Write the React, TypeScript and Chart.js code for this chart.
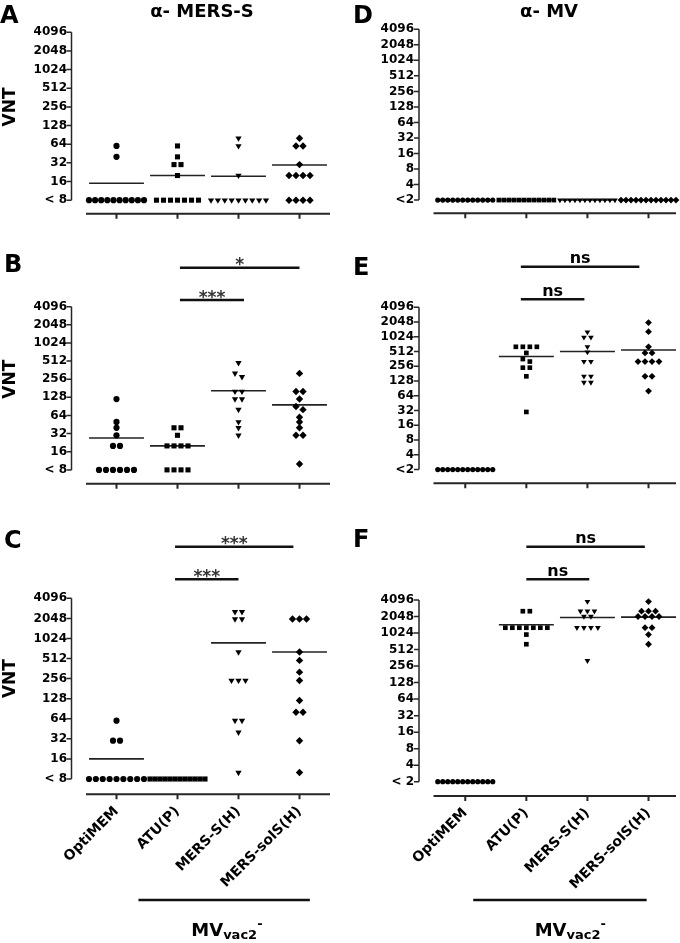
import React, { useEffect, useRef } from 'react';
import { Chart, registerables } from 'chart.js';

Chart.register(...registerables);

const FONT = '"DejaVu Sans", "Liberation Sans", Arial, sans-serif';
Chart.defaults.font.family = FONT;

// ---------- data ----------
const categories = ['OptiMEM', 'ATU(P)', 'MERS-S(H)', 'MERS-solS(H)'];
const mersTickLabels = ['< 8', '16', '32', '64', '128', '256', '512', '1024', '2048', '4096'];
const mvTickLabels = ['<2', '4', '8', '16', '32', '64', '128', '256', '512', '1024', '2048', '4096'];
const mvTickLabelsF = ['< 2', '4', '8', '16', '32', '64', '128', '256', '512', '1024', '2048', '4096'];

// Panel A (alpha-MERS-S)
const aOptiMEM = [60, 40, 8, 8, 8, 8, 8, 8, 8, 8, 8, 8];
const aATU = [60, 40, 30, 30, 20, 8, 8, 8, 8, 8, 8, 8];
const aMersS = [80, 60, 20, 8, 8, 8, 8, 8, 8, 8, 8, 8];
const aMersSolS = [80, 60, 60, 30, 20, 20, 20, 20, 8, 8, 8, 8];
const aMeans = [15, 20, 19.5, 29.5];

// Panel B
const bOptiMEM = [120, 50, 40, 30, 20, 20, 8, 8, 8, 8, 8, 8];
const bATU = [40, 40, 30, 20, 20, 20, 20, 8, 8, 8, 8];
const bMersS = [480, 320, 280, 160, 160, 120, 120, 80, 50, 40, 30];
const bMersSolS = [320, 160, 160, 120, 90, 80, 60, 50, 40, 30, 30, 10];
const bMeans = [27, 20, 165, 96];

// Panel C
const cOptiMEM = [60, 30, 30, 8, 8, 8, 8, 8, 8, 8, 8, 8];
const cATU = [8, 8, 8, 8, 8, 8, 8, 8, 8, 8, 8, 8];
const cMersS = [2560, 2560, 2000, 2000, 640, 240, 240, 240, 60, 60, 40, 10];
const cMersSolS = [2000, 2000, 2000, 640, 480, 320, 240, 120, 80, 80, 30, 10];
const cMeans = [16, 8, 880, 640];

// Panel D (alpha-MV)
const dOptiMEM = [2, 2, 2, 2, 2, 2, 2, 2, 2, 2, 2, 2];
const dATU = [2, 2, 2, 2, 2, 2, 2, 2, 2, 2, 2, 2];
const dMersS = [2, 2, 2, 2, 2, 2, 2, 2, 2, 2, 2, 2];
const dMersSolS = [2, 2, 2, 2, 2, 2, 2, 2, 2, 2, 2, 2];
const dMeans = [2, 2, 2, 2];

// Panel E
const eOptiMEM = [2, 2, 2, 2, 2, 2, 2, 2, 2, 2, 2, 2];
const eATU = [640, 640, 640, 640, 480, 360, 320, 240, 240, 160, 30];
const eMersS = [1280, 1000, 1000, 640, 500, 320, 320, 160, 160, 120, 120];
const eMersSolS = [2000, 1300, 640, 480, 480, 320, 320, 320, 320, 160, 160, 80];
const eMeans = [2, 405, 512, 550];

// Panel F
const fOptiMEM = [2, 2, 2, 2, 2, 2, 2, 2, 2, 2, 2, 2];
const fATU = [2560, 2560, 1280, 1280, 1280, 1280, 1280, 1280, 1280, 960, 640];
const fMersS = [3840, 2560, 2560, 2560, 2048, 2048, 1280, 1280, 1280, 1280, 320];
const fMersSolS = [3840, 2560, 2560, 2560, 2048, 2048, 2048, 2048, 1280, 1280, 960, 640];
const fMeans = [2, 1450, 1970, 2000];

// ---------- layout ----------
type Sig = { from: number; to: number; y: number; label: string };
type Group = { from: number; to: number; barY: number; center: number; baseY: number };
type PanelCfg = {
  letter: string; left: number; top: number; width: number; height: number;
  chartLeft: number; chartRight: number; tickTop: number; tickLow: number; axisY: number;
  xMin: number; xMax: number; yPad: number; small: boolean;
  tickLabels: string[]; groups: number[][]; means: number[];
  letterX: number; letterY: number; title?: string; titleX?: number; vnt: boolean;
  sig: Sig[]; showX: boolean; group?: Group;
};

const panels: PanelCfg[] = [
  {
    letter: 'A', left: 0, top: 0, width: 340, height: 240,
    chartLeft: 86, chartRight: 330, tickTop: 32.3, tickLow: 211, axisY: 225.5,
    xMin: -0.5, xMax: 3.5, yPad: 19, small: false,
    tickLabels: mersTickLabels, groups: [aOptiMEM, aATU, aMersS, aMersSolS], means: aMeans,
    letterX: 0, letterY: 23, title: 'α- MERS-S', titleX: 202, vnt: true, sig: [], showX: false,
  },
  {
    letter: 'B', left: 0, top: 240, width: 340, height: 270,
    chartLeft: 86, chartRight: 330, tickTop: 66.7, tickLow: 247.3, axisY: 262.7,
    xMin: -0.5, xMax: 3.5, yPad: 19, small: false,
    tickLabels: mersTickLabels, groups: [bOptiMEM, bATU, bMersS, bMersSolS], means: bMeans,
    letterX: 4, letterY: 32, vnt: true,
    sig: [
      { from: 1.04, to: 3.0, y: 27.7, label: '*' },
      { from: 1.04, to: 2.09, y: 60, label: '***' },
    ],
    showX: false,
  },
  {
    letter: 'C', left: 0, top: 510, width: 340, height: 433,
    chartLeft: 86, chartRight: 330, tickTop: 88.3, tickLow: 269, axisY: 284.3,
    xMin: -0.5, xMax: 3.5, yPad: 19, small: false,
    tickLabels: mersTickLabels, groups: [cOptiMEM, cATU, cMersS, cMersSolS], means: cMeans,
    letterX: 4, letterY: 38, vnt: true,
    sig: [
      { from: 0.96, to: 2.9, y: 36.7, label: '***' },
      { from: 0.96, to: 2.0, y: 69.3, label: '***' },
    ],
    showX: true,
    group: { from: 0.36, to: 3.17, barY: 390, center: 1.81, baseY: 426 },
  },
  {
    letter: 'D', left: 340, top: 0, width: 340, height: 240,
    chartLeft: 93.5, chartRight: 336, tickTop: 29.3, tickLow: 210, axisY: 224,
    xMin: -0.52, xMax: 3.45, yPad: 19.5, small: true,
    tickLabels: mvTickLabels, groups: [dOptiMEM, dATU, dMersS, dMersSolS], means: dMeans,
    letterX: 13, letterY: 23, title: 'α- MV', titleX: 209, vnt: false, sig: [], showX: false,
  },
  {
    letter: 'E', left: 340, top: 240, width: 340, height: 270,
    chartLeft: 93.5, chartRight: 336, tickTop: 67.3, tickLow: 248, axisY: 263.3,
    xMin: -0.52, xMax: 3.45, yPad: 19.5, small: true,
    tickLabels: mvTickLabels, groups: [eOptiMEM, eATU, eMersS, eMersSolS], means: eMeans,
    letterX: 13, letterY: 35, vnt: false,
    sig: [
      { from: 0.91, to: 2.85, y: 26.7, label: 'ns' },
      { from: 0.91, to: 1.95, y: 59.3, label: 'ns' },
    ],
    showX: false,
  },
  {
    letter: 'F', left: 340, top: 510, width: 340, height: 433,
    chartLeft: 93.5, chartRight: 336, tickTop: 90, tickLow: 271.7, axisY: 286,
    xMin: -0.52, xMax: 3.45, yPad: 19.5, small: true,
    tickLabels: mvTickLabelsF, groups: [fOptiMEM, fATU, fMersS, fMersSolS], means: fMeans,
    letterX: 13, letterY: 36.7, vnt: false,
    sig: [
      { from: 1.0, to: 2.94, y: 36.7, label: 'ns' },
      { from: 1.0, to: 2.03, y: 69.3, label: 'ns' },
    ],
    showX: true,
    group: { from: 0.13, to: 2.97, barY: 390, center: 1.72, baseY: 426 },
  },
];

const STYLES = ['circle', 'rect', 'triangle', 'rectRot'];
const ROTATIONS = [0, 0, 180, 0];

// spread points that share (nearly) the same titre side by side
function swarm(values: number[], center: number, catPx: number) {
  const sorted = [...values].sort((a, b) => b - a);
  const rows: number[][] = [];
  for (const v of sorted) {
    const r = rows[rows.length - 1];
    if (r && Math.log2(r[0]) - Math.log2(v) < 0.25) r.push(v);
    else rows.push([v]);
  }
  const pts: { x: number; y: number }[] = [];
  for (const r of rows) {
    const n = r.length;
    const stepPx = n > 1 ? Math.min(7, 55 / (n - 1)) : 0;
    const step = stepPx / catPx;
    r.forEach((v, k) => pts.push({ x: center + (k - (n - 1) / 2) * step, y: Math.log2(v) }));
  }
  return pts;
}

function makeDeco(p: PanelCfg) {
  return {
    id: 'deco' + p.letter,
    afterDraw(chart: any) {
      const { ctx, chartArea: ca, scales } = chart;
      const x = scales.x;
      const y = scales.y;
      const lowVal = 12 - (p.tickLabels.length - 1);
      ctx.save();
      ctx.strokeStyle = '#262626';
      ctx.fillStyle = '#000';
      // y axis (detached, GraphPad style)
      const ax = ca.left - 14.5;
      ctx.lineWidth = 1.5;
      ctx.beginPath();
      ctx.moveTo(ax, y.getPixelForValue(12));
      ctx.lineTo(ax, y.getPixelForValue(lowVal));
      for (let v = lowVal; v <= 12; v++) {
        const py = y.getPixelForValue(v);
        ctx.moveTo(ax - 5, py);
        ctx.lineTo(ax, py);
      }
      ctx.stroke();
      // x axis
      ctx.lineWidth = 2;
      ctx.beginPath();
      ctx.moveTo(ca.left, ca.bottom);
      ctx.lineTo(ca.right, ca.bottom);
      categories.forEach((_, i) => {
        const px = x.getPixelForValue(i);
        ctx.moveTo(px, ca.bottom);
        ctx.lineTo(px, ca.bottom + 5);
      });
      ctx.stroke();
      // panel letter
      ctx.textBaseline = 'alphabetic';
      ctx.textAlign = 'left';
      ctx.font = `bold 24px ${FONT}`;
      ctx.fillText(p.letter, p.letterX, p.letterY);
      // title
      if (p.title) {
        ctx.textAlign = 'center';
        ctx.font = `bold 18px ${FONT}`;
        ctx.fillText(p.title, p.titleX, 17);
      }
      // y title
      if (p.vnt) {
        ctx.save();
        ctx.translate(11, y.getPixelForValue(8));
        ctx.rotate(-Math.PI / 2);
        ctx.font = `bold 17px ${FONT}`;
        ctx.textAlign = 'center';
        ctx.textBaseline = 'middle';
        ctx.fillText('VNT', 0, 0);
        ctx.restore();
      }
      // significance bars
      for (const s of p.sig) {
        const x1 = x.getPixelForValue(s.from);
        const x2 = x.getPixelForValue(s.to);
        ctx.lineWidth = 2.5;
        ctx.strokeStyle = '#111';
        ctx.beginPath();
        ctx.moveTo(x1, s.y);
        ctx.lineTo(x2, s.y);
        ctx.stroke();
        const star = s.label.startsWith('*');
        ctx.font = star ? `bold 17px ${FONT}` : `bold 16px ${FONT}`;
        ctx.textAlign = 'center';
        ctx.textBaseline = 'alphabetic';
        ctx.fillStyle = star ? '#333' : '#000';
        ctx.fillText(s.label, (x1 + x2) / 2, star ? s.y + 2.5 : s.y - 3.5);
        ctx.fillStyle = '#000';
      }
      // group bar + label
      if (p.group) {
        const g = p.group;
        ctx.lineWidth = 2.5;
        ctx.strokeStyle = '#111';
        ctx.beginPath();
        ctx.moveTo(x.getPixelForValue(g.from), g.barY);
        ctx.lineTo(x.getPixelForValue(g.to), g.barY);
        ctx.stroke();
        const f1 = `bold 18px ${FONT}`;
        const f2 = `bold 13px ${FONT}`;
        ctx.font = f1;
        const w1 = ctx.measureText('MV').width;
        ctx.font = f2;
        const w2 = ctx.measureText('vac2').width;
        const w3 = ctx.measureText('-').width;
        let sx = x.getPixelForValue(g.center) - (w1 + w2 + w3) / 2;
        ctx.textAlign = 'left';
        ctx.textBaseline = 'alphabetic';
        ctx.font = f1;
        ctx.fillText('MV', sx, g.baseY);
        sx += w1;
        ctx.font = f2;
        ctx.fillText('vac2', sx, g.baseY + 3);
        sx += w2;
        ctx.fillText('-', sx, g.baseY - 8);
      }
      ctx.restore();
    },
  };
}

function Panel({ p }: { p: PanelCfg }) {
  const ref = useRef<HTMLCanvasElement>(null);
  useEffect(() => {
    if (!ref.current) return;
    const lowVal = 12 - (p.tickLabels.length - 1);
    const unitPx = (p.tickLow - p.tickTop) / (12 - lowVal);
    const yMin = lowVal - (p.axisY - p.tickLow) / unitPx;
    const catPx = (p.chartRight - p.chartLeft) / (p.xMax - p.xMin);
    const sizes = p.small ? [2.6, 3.3, 3.3, 3.4] : [3.1, 3.6, 3.6, 3.7];
    const datasets: any[] = [];
    p.groups.forEach((vals, i) => {
      datasets.push({
        data: swarm(vals, i, catPx),
        pointStyle: STYLES[i],
        pointRotation: ROTATIONS[i],
        pointRadius: sizes[i],
        backgroundColor: '#000',
        borderColor: '#000',
        pointBorderWidth: 0,
        clip: false,
      });
    });
    p.means.forEach((m, i) => {
      const ly = Math.log2(m);
      datasets.push({
        data: [{ x: i - 0.45, y: ly }, { x: i + 0.45, y: ly }],
        showLine: true,
        borderColor: '#222',
        borderWidth: 1.6,
        pointRadius: 0,
        clip: false,
      });
    });
    const chart = new Chart(ref.current, {
      type: 'scatter',
      data: { datasets },
      options: {
        animation: false,
        responsive: false,
        devicePixelRatio: 1,
        events: [],
        layout: { padding: { top: p.tickTop, right: p.width - p.chartRight, left: 0, bottom: 0 } },
        plugins: { legend: { display: false }, tooltip: { enabled: false } },
        scales: {
          x: {
            type: 'linear',
            min: p.xMin,
            max: p.xMax,
            grid: { display: false, drawTicks: false },
            border: { display: false },
            afterBuildTicks: (s: any) => {
              s.ticks = categories.map((_, i) => ({ value: i }));
            },
            afterFit: (s: any) => {
              s.height = p.height - p.axisY;
            },
            ticks: {
              display: p.showX,
              autoSkip: false,
              minRotation: 45,
              maxRotation: 45,
              padding: 9,
              color: '#000',
              font: { family: FONT, size: 14, weight: 'bold' },
              callback: (v: any) => categories[v] ?? '',
            },
          },
          y: {
            type: 'linear',
            min: yMin,
            max: 12,
            grid: { display: false, drawTicks: false },
            border: { display: false },
            afterBuildTicks: (s: any) => {
              s.ticks = p.tickLabels.map((_, k) => ({ value: lowVal + k }));
            },
            afterFit: (s: any) => {
              s.width = p.chartLeft;
            },
            ticks: {
              autoSkip: false,
              padding: p.yPad,
              color: '#000',
              font: { family: FONT, size: 12, weight: 'bold' },
              callback: (v: any) => p.tickLabels[Math.round(v - lowVal)] ?? '',
            },
          },
        },
      } as any,
      plugins: [makeDeco(p)],
    });
    return () => chart.destroy();
  }, []);
  return (
    <canvas
      ref={ref}
      width={p.width}
      height={p.height}
      style={{ position: 'absolute', left: p.left, top: p.top, width: p.width, height: p.height }}
    />
  );
}

export default function App() {
  return (
    <div style={{ position: 'absolute', left: 0, top: 0, width: 680, height: 943, background: '#fff', overflow: 'hidden' }}>
      {panels.map((p) => (
        <Panel key={p.letter} p={p} />
      ))}
    </div>
  );
}
